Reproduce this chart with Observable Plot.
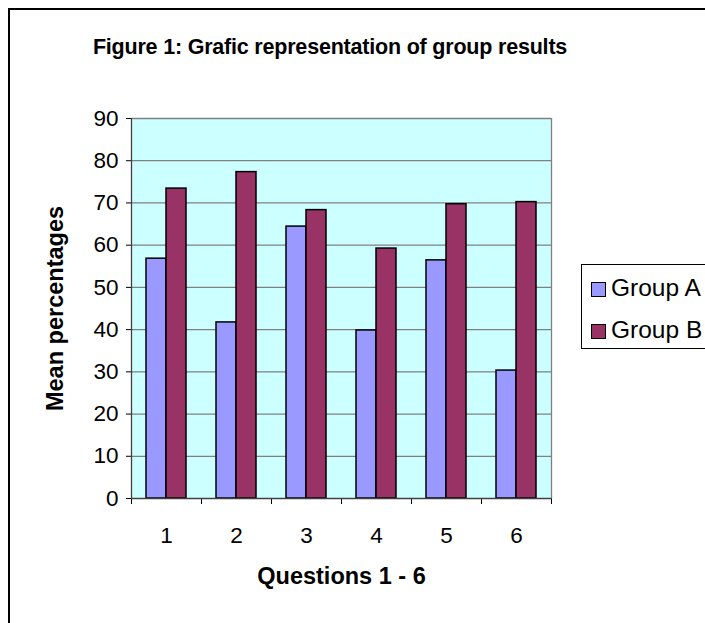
<!DOCTYPE html>
<html><head><meta charset="utf-8">
<script src="https://cdn.jsdelivr.net/npm/d3@7"></script>
<script src="https://cdn.jsdelivr.net/npm/@observablehq/plot@0.6"></script>
<style>
body{margin:0;background:#fff;font-family:"Liberation Sans",Arial,sans-serif;}
#wrap{position:relative;width:705px;height:623px;overflow:hidden;background:#fff;}
#chart{position:absolute;left:0;top:0;}
#border{position:absolute;left:8px;top:8px;width:760px;height:700px;border:2px solid #000;box-sizing:border-box;pointer-events:none;}
#title{position:absolute;left:0;width:660px;top:34px;text-align:center;font-weight:bold;font-size:21.5px;line-height:26px;letter-spacing:-0.2px;}
#legend{position:absolute;left:581px;top:264px;width:200px;height:85px;border:1px solid #000;box-sizing:border-box;background:#fff;}
.item{position:absolute;left:9px;font-size:24.5px;line-height:26px;white-space:nowrap;}
.sw{display:inline-block;width:13px;height:13px;border:1px solid #000;margin-right:5px;vertical-align:-1px;}
</style></head>
<body>
<div id="wrap">
  <div id="chart"></div>
  <div id="title"></div>
  <div id="legend"></div>
  <div id="border"></div>
</div>
<script>
const titleText = "Figure 1: Grafic representation of group results";
const xLabel = "Questions 1 - 6";
const yLabel = "Mean percentages";
const questions = [1, 2, 3, 4, 5, 6];
const groups = ["Group A", "Group B"];
const groupColors = ["#9999FF", "#993366"];
const groupA = [56.8, 41.7, 64.4, 39.8, 56.4, 30.3];
const groupB = [73.4, 77.3, 68.3, 59.2, 69.7, 70.2];
const yTicks = [0, 10, 20, 30, 40, 50, 60, 70, 80, 90];
const xBoundaries = [0, 1, 2, 3, 4, 5, 6];

const rowsA = questions.map((q, i) => ({q, group: groups[0], value: groupA[i]}));
const rowsB = questions.map((q, i) => ({q, group: groups[1], value: groupB[i]}));

document.getElementById("title").textContent = titleText;
const leg = document.getElementById("legend");
groups.forEach((g, i) => {
  const d = document.createElement("div");
  d.className = "item";
  d.style.top = (10 + i * 42) + "px";
  d.innerHTML = `<span class="sw" style="background:${groupColors[i]}"></span>${g}`;
  leg.appendChild(d);
});

const chart = Plot.plot({
  width: 705,
  height: 623,
  marginLeft: 131,
  marginRight: 154,
  marginTop: 118,
  marginBottom: 125,
  style: {fontFamily: "'Liberation Sans', Arial, sans-serif", fontSize: "22.5px", color: "#000", background: "transparent"},
  x: {domain: [0, 6], ticks: xBoundaries, tickFormat: () => "", tickSize: 6, label: null},
  y: {domain: [0, 90], ticks: yTicks, tickSize: 5, tickPadding: 8, label: null},
  color: {domain: groups, range: groupColors},
  marks: [
    Plot.frame({fill: "#CCFFFF", stroke: "none"}),
    Plot.ruleY(yTicks.slice(1), {stroke: "#808080", strokeWidth: 1.3}),
    Plot.ruleX([6], {stroke: "#808080", strokeWidth: 1.3}),
    Plot.rectY(rowsA, {x1: d => d.q - 1, x2: d => d.q, y: "value", fill: "group", stroke: "#000", strokeWidth: 1.5, insetLeft: 15, insetRight: 35}),
    Plot.rectY(rowsB, {x1: d => d.q - 1, x2: d => d.q, y: "value", fill: "group", stroke: "#000", strokeWidth: 1.5, insetLeft: 35, insetRight: 15}),
    Plot.ruleY([0], {stroke: "#404040", strokeWidth: 1.3}),
    Plot.ruleX([0], {stroke: "#404040", strokeWidth: 1.3}),
    Plot.text(questions, {x: d => d - 0.5, y: 0, text: d => String(d), dy: 37, fontSize: 22.5}),
    Plot.text([yLabel], {frameAnchor: "left", textAnchor: "middle", dx: -76, rotate: -90, fontWeight: "bold", fontSize: 23.5}),
    Plot.text([xLabel], {frameAnchor: "bottom", textAnchor: "middle", dy: 85, fontWeight: "bold", fontSize: 23.5})
  ]
});
document.getElementById("chart").appendChild(chart);
</script>
</body></html>
